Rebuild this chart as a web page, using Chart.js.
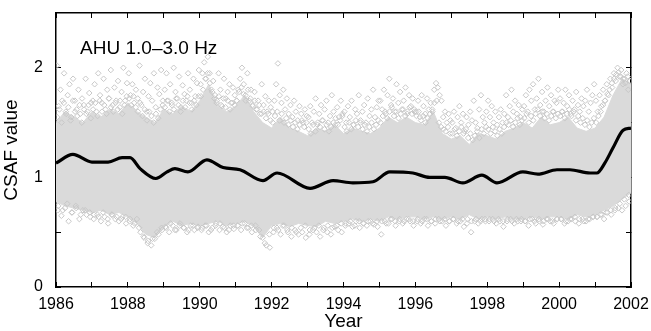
<!DOCTYPE html>
<html>
<head>
<meta charset="utf-8">
<script src="https://cdn.jsdelivr.net/npm/chart.js@4.4.1/dist/chart.umd.min.js"></script>
<style>
  html, body { margin: 0; padding: 0; background: #fff; }
  #wrap { width: 651px; height: 331px; position: relative; }
</style>
</head>
<body>
<div id="wrap"><canvas id="csaf"></canvas></div>
<script>
// --- data ---
const xTicks = [1986, 1987, 1988, 1989, 1990, 1991, 1992, 1993, 1994, 1995, 1996, 1997, 1998, 1999, 2000, 2001, 2002];
const yTicks = [0, 0.5, 1, 1.5, 2];

// smoothed CSAF curve (year, value)
const trendYears = [1986.0, 1986.47, 1987.0, 1987.45, 1987.84, 1988.06, 1988.34, 1988.78, 1989.09, 1989.31,
  1989.67, 1990.2, 1990.65, 1991.12, 1991.76, 1992.15, 1993.07, 1993.71, 1994.26, 1994.82,
  1995.29, 1995.93, 1996.4, 1996.82, 1997.32, 1997.85, 1998.27, 1998.99, 1999.41, 1999.94,
  2000.3, 2000.86, 2001.05, 2001.27, 2001.5, 2001.78, 2002.0];
const trendValues = [1.13, 1.21, 1.14, 1.14, 1.18, 1.18, 1.08, 0.99, 1.05, 1.08,
  1.05, 1.16, 1.09, 1.07, 0.97, 1.04, 0.90, 0.97, 0.95, 0.96,
  1.05, 1.04, 1.00, 1.00, 0.95, 1.02, 0.95, 1.05, 1.03, 1.07,
  1.07, 1.04, 1.04, 1.13, 1.27, 1.43, 1.45];

// dense part of the daily cloud, quarter-year steps from 1986.0
const coreHigh = [1.5, 1.6, 1.55, 1.5, 1.6, 1.55, 1.62, 1.58, 1.68, 1.6, 1.55, 1.5, 1.62, 1.58, 1.65, 1.6,
  1.7, 1.85, 1.65, 1.6, 1.65, 1.75, 1.6, 1.5, 1.45, 1.55, 1.45, 1.42, 1.38, 1.45, 1.42, 1.48,
  1.4, 1.45, 1.42, 1.4, 1.45, 1.55, 1.5, 1.55, 1.5, 1.48, 1.6, 1.4, 1.35, 1.38, 1.3, 1.4,
  1.38, 1.35, 1.42, 1.45, 1.5, 1.45, 1.55, 1.48, 1.5, 1.55, 1.45, 1.42, 1.45, 1.55, 1.75, 1.9, 1.85];
const coreLow = [0.78, 0.74, 0.72, 0.7, 0.68, 0.7, 0.66, 0.68, 0.64, 0.58, 0.48, 0.45, 0.55, 0.6, 0.56, 0.58,
  0.56, 0.58, 0.6, 0.56, 0.58, 0.6, 0.55, 0.45, 0.56, 0.58, 0.55, 0.58, 0.56, 0.55, 0.6, 0.58,
  0.6, 0.62, 0.6, 0.62, 0.6, 0.64, 0.62, 0.64, 0.64, 0.62, 0.64, 0.62, 0.64, 0.62, 0.66, 0.62,
  0.64, 0.62, 0.64, 0.62, 0.62, 0.64, 0.62, 0.64, 0.64, 0.62, 0.66, 0.64, 0.66, 0.7, 0.74, 0.8, 0.86];

// scattered daily values above and below the dense part, per year
const upperScatter = {
  1986: [2.02, 1.65, 1.8, 1.7, 1.95, 1.6, 1.75, 1.85, 1.55, 1.9, 1.7, 1.62, 1.8, 1.58, 1.72, 1.66, 1.9, 1.6, 1.77, 1.68],
  1987: [1.7, 1.85, 1.6, 1.95, 1.75, 1.68, 1.9, 1.62, 1.8, 1.72, 1.98, 1.66, 1.82, 1.7, 1.88, 1.64, 1.78, 2.0, 1.7, 1.86],
  1988: [1.95, 1.75, 1.85, 1.68, 1.8, 1.72, 2.02, 1.66, 1.78, 1.9, 1.6, 1.74, 1.86, 1.7, 1.95, 1.64, 1.82, 1.76, 1.98, 1.7],
  1989: [1.8, 1.95, 1.7, 1.85, 1.66, 2.0, 1.78, 1.72, 1.92, 1.64, 1.84, 1.76, 1.7, 1.95, 1.8, 1.68, 1.9, 1.74, 1.86, 1.98],
  1990: [1.85, 1.95, 2.05, 1.9, 2.1, 1.95, 1.8, 1.88, 1.75, 1.7, 1.95, 1.8, 1.65, 1.9, 1.72, 1.78, 1.85, 1.68, 1.82, 1.75],
  1991: [1.7, 1.8, 1.9, 2.0, 1.85, 1.75, 1.95, 1.7, 1.8, 1.65, 1.78, 1.62, 1.7, 1.58, 1.85, 1.66, 1.74, 1.6, 1.7, 1.64],
  1992: [1.6, 1.7, 1.85, 2.04, 1.75, 1.68, 1.8, 1.62, 1.72, 1.58, 1.66, 1.55, 1.7, 1.6, 1.52, 1.65, 1.58, 1.5, 1.62, 1.56],
  1993: [1.55, 1.65, 1.5, 1.6, 1.72, 1.48, 1.58, 1.66, 1.52, 1.62, 1.7, 1.5, 1.56, 1.75, 1.6, 1.48, 1.64, 1.55, 1.7, 1.58],
  1994: [1.6, 1.5, 1.65, 1.55, 1.7, 1.48, 1.62, 1.58, 1.75, 1.52, 1.6, 1.66, 1.5, 1.72, 1.56, 1.62, 1.8, 1.55, 1.64, 1.7],
  1995: [1.7, 1.62, 1.8, 1.58, 1.75, 1.9, 1.66, 1.72, 1.6, 1.85, 1.68, 1.78, 1.62, 1.7, 1.82, 1.58, 1.75, 1.65, 1.72, 1.6],
  1996: [1.6, 1.7, 1.55, 1.75, 1.65, 1.58, 1.72, 1.62, 1.68, 1.6, 1.8, 1.86, 1.82, 1.75, 1.7, 1.55, 1.6, 1.5, 1.58, 1.52],
  1997: [1.5, 1.6, 1.45, 1.55, 1.65, 1.5, 1.58, 1.42, 1.55, 1.48, 1.6, 1.52, 1.7, 1.5, 1.45, 1.62, 1.75, 1.55, 1.5, 1.6],
  1998: [1.7, 1.55, 1.65, 1.5, 1.6, 1.48, 1.55, 1.62, 1.5, 1.58, 1.75, 1.55, 1.65, 1.8, 1.6, 1.7, 1.58, 1.66, 1.55, 1.62],
  1999: [1.65, 1.75, 1.6, 1.8, 1.7, 1.85, 1.62, 1.72, 1.9, 1.66, 1.78, 1.6, 1.7, 1.82, 1.65, 1.75, 1.6, 1.7, 1.68, 1.8],
  2000: [1.72, 1.6, 1.68, 1.8, 1.65, 1.75, 1.58, 1.7, 1.62, 1.78, 1.66, 1.6, 1.72, 1.65, 1.7, 1.8, 1.6, 1.68, 1.75, 1.85],
  2001: [1.7, 1.6, 1.75, 1.65, 1.8, 1.7, 1.85, 1.75, 1.9, 1.82, 1.95, 1.88, 2.0, 1.92, 1.98, 1.85, 1.9, 1.95, 1.8, 1.88]
};
const lowerScatter = {
  1986: [0.7, 0.65, 0.72, 0.6, 0.68, 0.74, 0.62, 0.7, 0.66, 0.64],
  1987: [0.62, 0.66, 0.6, 0.64, 0.58, 0.66, 0.62, 0.6, 0.64, 0.58],
  1988: [0.6, 0.56, 0.62, 0.5, 0.45, 0.4, 0.38, 0.44, 0.48, 0.52],
  1989: [0.55, 0.5, 0.56, 0.52, 0.58, 0.54, 0.5, 0.56, 0.52, 0.55],
  1990: [0.52, 0.56, 0.5, 0.54, 0.58, 0.52, 0.55, 0.5, 0.56, 0.53],
  1991: [0.56, 0.52, 0.58, 0.54, 0.5, 0.56, 0.52, 0.45, 0.38, 0.36],
  1992: [0.5, 0.54, 0.48, 0.56, 0.5, 0.46, 0.52, 0.48, 0.5, 0.45],
  1993: [0.48, 0.52, 0.5, 0.46, 0.54, 0.5, 0.48, 0.55, 0.52, 0.5],
  1994: [0.56, 0.58, 0.55, 0.6, 0.54, 0.58, 0.56, 0.6, 0.57, 0.55],
  1995: [0.48, 0.6, 0.58, 0.62, 0.56, 0.6, 0.58, 0.62, 0.6, 0.56],
  1996: [0.6, 0.58, 0.62, 0.56, 0.6, 0.58, 0.62, 0.6, 0.56, 0.6],
  1997: [0.62, 0.58, 0.6, 0.55, 0.62, 0.5, 0.6, 0.58, 0.62, 0.6],
  1998: [0.6, 0.62, 0.58, 0.6, 0.55, 0.6, 0.62, 0.58, 0.6, 0.62],
  1999: [0.6, 0.56, 0.62, 0.58, 0.6, 0.57, 0.62, 0.6, 0.58, 0.62],
  2000: [0.62, 0.58, 0.6, 0.62, 0.6, 0.58, 0.62, 0.6, 0.62, 0.64],
  2001: [0.64, 0.66, 0.62, 0.68, 0.66, 0.7, 0.72, 0.7, 0.74, 0.78]
};

// daily values sitting on the ragged edges of the dense part, per year
const edgeUpper = {
  1986: [1.55, 1.62, 1.5, 1.68, 1.58, 1.64, 1.52, 1.7, 1.6, 1.56, 1.66, 1.5, 1.62, 1.58, 1.66, 1.54],
  1987: [1.62, 1.68, 1.56, 1.7, 1.6, 1.66, 1.58, 1.72, 1.64, 1.6, 1.68, 1.62, 1.7, 1.58, 1.66, 1.74],
  1988: [1.72, 1.66, 1.74, 1.64, 1.6, 1.68, 1.56, 1.62, 1.52, 1.6, 1.56, 1.5, 1.58, 1.54, 1.62, 1.66],
  1989: [1.64, 1.7, 1.6, 1.68, 1.62, 1.72, 1.66, 1.6, 1.7, 1.64, 1.74, 1.68, 1.62, 1.7, 1.66, 1.74],
  1990: [1.74, 1.8, 1.9, 1.95, 1.86, 1.78, 1.72, 1.68, 1.74, 1.66, 1.72, 1.64, 1.7, 1.62, 1.68, 1.66],
  1991: [1.7, 1.78, 1.82, 1.76, 1.7, 1.8, 1.72, 1.66, 1.7, 1.62, 1.66, 1.58, 1.6, 1.54, 1.58, 1.52],
  1992: [1.5, 1.56, 1.6, 1.52, 1.58, 1.5, 1.54, 1.48, 1.52, 1.46, 1.5, 1.44, 1.48, 1.52, 1.46, 1.5],
  1993: [1.44, 1.4, 1.48, 1.42, 1.5, 1.46, 1.52, 1.44, 1.48, 1.42, 1.46, 1.5, 1.54, 1.48, 1.52, 1.56],
  1994: [1.46, 1.42, 1.5, 1.44, 1.48, 1.52, 1.46, 1.5, 1.44, 1.48, 1.42, 1.46, 1.5, 1.44, 1.48, 1.52],
  1995: [1.5, 1.56, 1.6, 1.54, 1.6, 1.64, 1.56, 1.6, 1.54, 1.58, 1.62, 1.56, 1.6, 1.64, 1.58, 1.62],
  1996: [1.56, 1.6, 1.52, 1.56, 1.5, 1.54, 1.58, 1.62, 1.68, 1.7, 1.5, 1.46, 1.44, 1.42, 1.46, 1.4],
  1997: [1.4, 1.44, 1.38, 1.42, 1.46, 1.4, 1.44, 1.36, 1.4, 1.34, 1.38, 1.42, 1.36, 1.44, 1.4, 1.46],
  1998: [1.44, 1.4, 1.46, 1.42, 1.38, 1.44, 1.4, 1.46, 1.5, 1.48, 1.52, 1.46, 1.5, 1.54, 1.48, 1.52],
  1999: [1.54, 1.58, 1.5, 1.56, 1.52, 1.58, 1.62, 1.56, 1.6, 1.54, 1.58, 1.52, 1.56, 1.6, 1.54, 1.58],
  2000: [1.56, 1.6, 1.54, 1.58, 1.62, 1.56, 1.6, 1.52, 1.56, 1.5, 1.54, 1.48, 1.52, 1.46, 1.5, 1.54],
  2001: [1.5, 1.56, 1.6, 1.66, 1.7, 1.76, 1.8, 1.86, 1.9, 1.94, 1.96, 1.92, 1.9, 1.86, 1.92, 1.88]
};
const edgeLower = {
  1986: [0.74, 0.7, 0.76, 0.68, 0.72, 0.66, 0.7, 0.68],
  1987: [0.66, 0.64, 0.68, 0.62, 0.66, 0.64, 0.62, 0.64],
  1988: [0.62, 0.58, 0.54, 0.46, 0.42, 0.44, 0.5, 0.54],
  1989: [0.54, 0.58, 0.52, 0.56, 0.54, 0.52, 0.56, 0.54],
  1990: [0.54, 0.56, 0.52, 0.56, 0.58, 0.54, 0.52, 0.56],
  1991: [0.56, 0.58, 0.54, 0.56, 0.52, 0.46, 0.4, 0.48],
  1992: [0.54, 0.52, 0.56, 0.52, 0.54, 0.5, 0.54, 0.56],
  1993: [0.52, 0.54, 0.56, 0.52, 0.56, 0.54, 0.56, 0.58],
  1994: [0.58, 0.6, 0.56, 0.6, 0.58, 0.6, 0.58, 0.6],
  1995: [0.6, 0.58, 0.62, 0.6, 0.62, 0.6, 0.62, 0.6],
  1996: [0.62, 0.6, 0.62, 0.6, 0.62, 0.6, 0.62, 0.6],
  1997: [0.62, 0.6, 0.62, 0.58, 0.6, 0.62, 0.6, 0.62],
  1998: [0.62, 0.6, 0.62, 0.6, 0.62, 0.6, 0.62, 0.6],
  1999: [0.6, 0.62, 0.6, 0.62, 0.6, 0.62, 0.6, 0.62],
  2000: [0.62, 0.6, 0.62, 0.64, 0.62, 0.6, 0.62, 0.64],
  2001: [0.64, 0.66, 0.68, 0.7, 0.72, 0.76, 0.8, 0.84]
};

// --- build point lists ---
const bandStart = 1986, bandStep = 0.25;
const toBand = arr => arr.map((v, i) => ({ x: bandStart + i * bandStep, y: v }));

function spread(byYear) {
  const pts = [];
  Object.keys(byYear).forEach(yr => {
    const vals = byYear[yr];
    vals.forEach((v, i) => pts.push({ x: Number(yr) + (i + 0.5) / vals.length, y: v }));
  });
  return pts;
}

const GREY = "rgb(218,218,218)";
const DOT = "rgb(200,200,200)";
const FONT = "'Liberation Sans', Arial, Helvetica, sans-serif";

function dots(label, pts) {
  return {
    label,
    type: "scatter",
    data: pts,
    pointStyle: "rectRot",
    pointRadius: 2.8,
    borderColor: DOT,
    backgroundColor: "rgba(0,0,0,0)",
    borderWidth: 1,
    order: 1
  };
}

// panel label inside the plot
const panelLabel = {
  id: "panelLabel",
  afterDraw(chart) {
    const { ctx, scales: { x, y } } = chart;
    ctx.save();
    ctx.fillStyle = "#000";
    ctx.font = "19px " + FONT;
    ctx.textBaseline = "alphabetic";
    ctx.fillText("AHU 1.0\u20133.0 Hz", x.getPixelForValue(1986.67), y.getPixelForValue(2.13));
    ctx.restore();
  }
};

// inward tick marks + frame line, shared by the four axes
const tickGrid = { display: true, drawOnChartArea: false, drawTicks: true, tickLength: -5, color: "#000", lineWidth: 1 };
const frame = { display: true, color: "#000", width: 1.5 };
const noPad = s => { s.paddingTop = 0; s.paddingBottom = 0; s.paddingLeft = 0; s.paddingRight = 0; };

new Chart(document.getElementById("csaf"), {
  type: "line",
  data: {
    datasets: [
      {
        label: "trend",
        data: trendYears.map((t, i) => ({ x: t, y: trendValues[i] })),
        borderColor: "#000",
        borderWidth: 3.2,
        pointRadius: 0,
        tension: 0.4,
        cubicInterpolationMode: "monotone",
        fill: false,
        order: 0
      },
      dots("upper", spread(upperScatter)),
      dots("lower", spread(lowerScatter)),
      dots("edgeUpper", spread(edgeUpper)),
      dots("edgeLower", spread(edgeLower)),
      {
        label: "coreLow",
        data: toBand(coreLow),
        borderColor: GREY,
        borderWidth: 1,
        pointRadius: 0,
        tension: 0,
        fill: false,
        order: 3
      },
      {
        label: "coreHigh",
        data: toBand(coreHigh),
        borderColor: GREY,
        backgroundColor: GREY,
        borderWidth: 1,
        pointRadius: 0,
        tension: 0,
        fill: "-1",
        order: 2
      }
    ]
  },
  options: {
    responsive: true,
    maintainAspectRatio: false,
    animation: false,
    layout: { padding: { left: 0, right: 20, top: 13, bottom: 0 } },
    plugins: {
      legend: { display: false },
      tooltip: { enabled: false }
    },
    scales: {
      x: {
        type: "linear",
        position: "bottom",
        min: 1986,
        max: 2002,
        z: 1,
        afterBuildTicks: s => { s.ticks = xTicks.map(v => ({ value: v })); },
        afterFit: s => { s.height = 44; noPad(s); },
        grid: tickGrid,
        border: frame,
        ticks: {
          color: "#000",
          font: { family: FONT, size: 16 },
          padding: 13,
          maxRotation: 0,
          autoSkip: false,
          callback: v => (v % 2 === 0 ? String(v) : "")
        },
        title: {
          display: true,
          text: "Year",
          color: "#000",
          font: { family: FONT, size: 19, lineHeight: 1 },
          padding: { top: 0, bottom: 0 }
        }
      },
      xTop: {
        type: "linear",
        position: "top",
        min: 1986,
        max: 2002,
        z: 1,
        afterBuildTicks: s => { s.ticks = xTicks.map(v => ({ value: v })); },
        afterFit: s => { s.height = 0; noPad(s); },
        grid: tickGrid,
        border: frame,
        ticks: { display: false }
      },
      y: {
        position: "left",
        min: 0,
        max: 2.5,
        z: 1,
        afterBuildTicks: s => { s.ticks = yTicks.map(v => ({ value: v })); },
        afterFit: s => { s.width = 56; noPad(s); },
        grid: tickGrid,
        border: frame,
        ticks: {
          color: "#000",
          font: { family: FONT, size: 16 },
          padding: 18,
          callback: v => (v % 1 === 0 ? String(v) : "")
        },
        title: {
          display: true,
          text: "CSAF value",
          color: "#000",
          font: { family: FONT, size: 19 },
          padding: { top: 0, bottom: 0 }
        }
      },
      yRight: {
        position: "right",
        min: 0,
        max: 2.5,
        z: 1,
        afterBuildTicks: s => { s.ticks = yTicks.map(v => ({ value: v })); },
        afterFit: s => { s.width = 0; noPad(s); },
        grid: tickGrid,
        border: frame,
        ticks: { display: false }
      }
    }
  },
  plugins: [panelLabel]
});
</script>
</body>
</html>
